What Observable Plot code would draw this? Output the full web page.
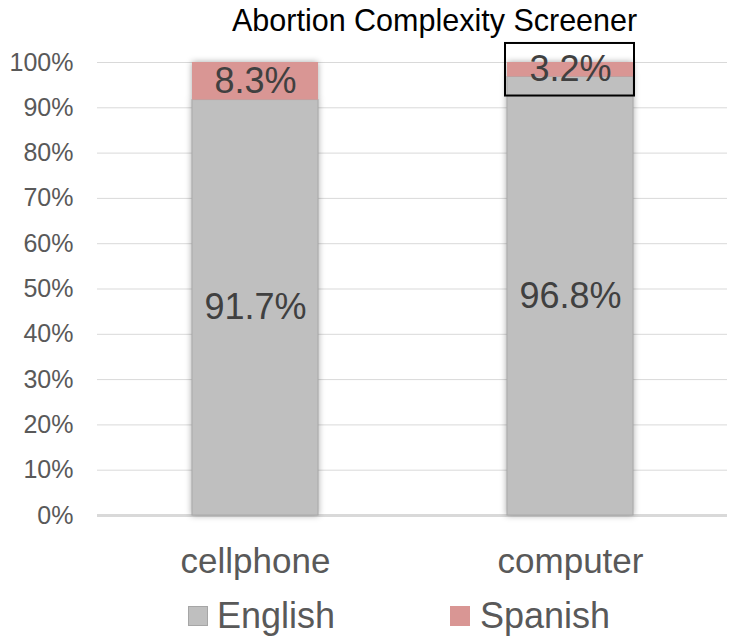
<!DOCTYPE html>
<html>
<head>
<meta charset="utf-8">
<script src="https://cdn.jsdelivr.net/npm/d3@7"></script>
<script src="https://cdn.jsdelivr.net/npm/@observablehq/plot@0.6"></script>
<style>
  html, body { margin: 0; padding: 0; background: #fff; }
  #wrap { position: relative; width: 730px; height: 639px; font-family: "Liberation Sans", Arial, sans-serif; }
  #title { position: absolute; left: 0; top: 0; width: 730px; height: 40px; line-height: 40px; font-size: 30.5px; color: #000; }
  #title span { position: absolute; left: 232px; }
  #chart { position: absolute; left: 0; top: 40px; }
  #legend { position: absolute; left: 0; top: 590px; width: 730px; height: 49px; font-size: 36px; color: #595959; }
  .item { position: absolute; top: 6px; height: 40px; line-height: 40px; }
  .sw { position: absolute; top: 16px; width: 20px; height: 20px; }
  .lab { position: absolute; white-space: nowrap; }
</style>
</head>
<body>
<div id="wrap">
  <div id="title"><span>Abortion Complexity Screener</span></div>
  <div id="chart"></div>
  <div id="legend"></div>
</div>
<script>
const categories = ["cellphone", "computer"];
const languages = ["English", "Spanish"];
const englishValues = [0.917, 0.968];
const spanishValues = [0.083, 0.032];
const yTicks = [0, 0.1, 0.2, 0.3, 0.4, 0.5, 0.6, 0.7, 0.8, 0.9, 1.0];
const colors = ["#bfbfbf", "#d99694"];
const boxedLabel = {device: "computer", language: "Spanish"};

const rows = [];
categories.forEach((c, i) => {
  rows.push({device: c, language: "English", value: englishValues[i]});
  rows.push({device: c, language: "Spanish", value: spanishValues[i]});
});

const pct = d3.format(".1%");
const boxHalf = 0.058;
const boxed = rows.filter(d => d.device === boxedLabel.device && d.language === boxedLabel.language)
  .map(d => ({device: d.device, mid: 1 - d.value / 2}));

const plot = Plot.plot({
  width: 730,
  height: 550,
  marginTop: 22,
  marginBottom: 75,
  marginLeft: 97,
  marginRight: 3,
  style: {fontFamily: "'Liberation Sans', Arial, sans-serif", background: "#fff"},
  x: {domain: categories, paddingInner: 0.6, paddingOuter: 0.3, label: null},
  y: {domain: [0, 1], label: null},
  color: {domain: languages, range: colors},
  marks: [
    Plot.ruleY(yTicks.slice(1), {stroke: "#d9d9d9", strokeWidth: 1}),
    Plot.axisY({ticks: yTicks, tickFormat: d3.format(".0%"), tickSize: 0, tickPadding: 24, fontSize: 25, fill: "#595959", label: null}),
    Plot.axisX({tickSize: 0, tickPadding: 33, fontSize: 35, fill: "#595959", label: null}),
    Plot.ruleY([0], {stroke: "#d9d9d9", strokeWidth: 3}),
    Plot.barY(rows, {x: "device", y: "value", fill: "language", order: languages, stroke: d => d.language === "English" ? "#a9a9a9" : "none", strokeWidth: 1}),
    Plot.text(rows, Plot.stackY({x: "device", y: "value", z: "language", order: languages, text: d => pct(d.value), fontSize: 36, fill: "#404040"})),
    Plot.barY(boxed, {x: "device", y1: d => d.mid - boxHalf, y2: d => d.mid + boxHalf, fill: "none", stroke: "#000", strokeWidth: 2, insetLeft: -2, insetRight: -1})
  ]
});
document.getElementById("chart").appendChild(plot);

// soft glow around bars
const bars = plot.querySelectorAll('g[aria-label="bar"]');
if (bars.length) bars[0].style.filter = "drop-shadow(0px 0px 3px rgba(0,0,0,0.35))";

const legend = document.getElementById("legend");
const legendPos = [{sw: 188, lab: 217}, {sw: 450, lab: 480}];
languages.forEach((l, i) => {
  const s = document.createElement("div");
  s.className = "sw";
  s.style.left = legendPos[i].sw + "px";
  s.style.background = colors[i];
  s.style.border = "1px solid " + (i === 0 ? "#a6a6a6" : "#d99694");
  s.style.boxSizing = "border-box";
  legend.appendChild(s);
  const t = document.createElement("div");
  t.className = "item lab";
  t.style.left = legendPos[i].lab + "px";
  t.textContent = l;
  legend.appendChild(t);
});
</script>
</body>
</html>
